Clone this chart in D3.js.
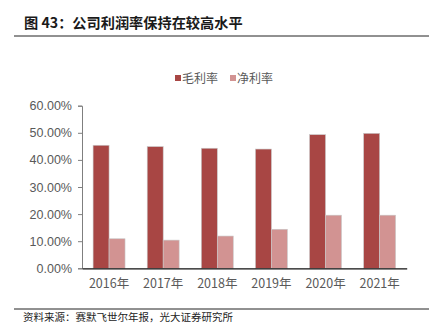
<!DOCTYPE html>
<html><head><meta charset="utf-8">
<script src="https://cdn.jsdelivr.net/npm/d3@7"></script>
<style>
html,body{margin:0;padding:0;background:#fff;}
svg{display:block;font-family:"Noto Sans CJK SC","Liberation Sans",sans-serif;}
</style></head>
<body><svg id="c" width="440" height="333"></svg>
<script>
const years = ["2016年","2017年","2018年","2019年","2020年","2021年"];
const seriesNames = ["毛利率","净利率"];
const grossMargin = [0.454, 0.449, 0.443, 0.440, 0.493, 0.498];
const netMargin = [0.109, 0.104, 0.119, 0.144, 0.196, 0.196];
const yTicks = [0, 0.1, 0.2, 0.3, 0.4, 0.5, 0.6];
const colors = ["#a84644", "#d29392"];

const svg = d3.select("#c");
const numFont = "'Liberation Sans', Arial, sans-serif";

// Title
svg.append("text").attr("x", 24).attr("y", 27.5).attr("font-size", 14.2).attr("font-weight", "bold")
  .attr("fill", "#1a1a1a").text("图 43：公司利润率保持在较高水平");
svg.append("line").attr("x1", 14).attr("x2", 429).attr("y1", 36).attr("y2", 36).attr("stroke", "#222").attr("stroke-width", 1);

// Footer
svg.append("line").attr("x1", 14).attr("x2", 429).attr("y1", 309).attr("y2", 309).attr("stroke", "#222").attr("stroke-width", 1);
svg.append("text").attr("x", 23).attr("y", 321).attr("font-size", 10.5).attr("fill", "#222")
  .text("资料来源：赛默飞世尔年报，光大证券研究所");

const x0 = d3.scaleBand().domain(years).range([82, 406.7]).paddingInner(0.41).paddingOuter(0.205);
const x1 = d3.scaleBand().domain(seriesNames).range([0, x0.bandwidth()]);
const y = d3.scaleLinear().domain([0, 0.6]).range([268.3, 105.7]);

// Y axis
const yAxis = svg.append("g").attr("transform", "translate(82,0)")
  .call(d3.axisLeft(y).tickValues(yTicks).tickFormat(d3.format(".2%")).tickSize(4).tickPadding(6));
yAxis.select(".domain").attr("stroke", "#7f7f7f");
yAxis.selectAll(".tick line").attr("stroke", "#7f7f7f");
yAxis.selectAll("text").attr("font-size", 12.5).attr("fill", "#595959").attr("font-family", numFont);

const data = years.map((yr, i) => ({year: yr, vals: [grossMargin[i], netMargin[i]]}));
const g = svg.append("g");
data.forEach(d => {
  seriesNames.forEach((s, j) => {
    g.append("rect")
      .attr("x", x0(d.year) + x1(s))
      .attr("y", y(d.vals[j]))
      .attr("width", x1.bandwidth())
      .attr("height", y(0) - y(d.vals[j]))
      .attr("fill", colors[j])
      .attr("stroke", "#c8c8c8").attr("stroke-width", 0.6);
  });
});

// X axis
const xAxis = svg.append("g").attr("transform", "translate(0,268.3)")
  .call(d3.axisBottom(x0).tickSize(0).tickPadding(11));
xAxis.select(".domain").attr("stroke", "#111").attr("stroke-width", 1.2);
xAxis.selectAll("text").attr("font-size", 12.5).attr("fill", "#595959").attr("font-family", "'Noto Sans CJK SC', sans-serif");

// Legend
const legX = [175, 230];
seriesNames.forEach((s, j) => {
  svg.append("rect").attr("x", legX[j]).attr("y", 75).attr("width", 6).attr("height", 6).attr("fill", colors[j]);
  svg.append("text").attr("x", legX[j] + 7).attr("y", 82.5).attr("font-size", 12).attr("fill", "#595959").text(s);
});
</script></body></html>
